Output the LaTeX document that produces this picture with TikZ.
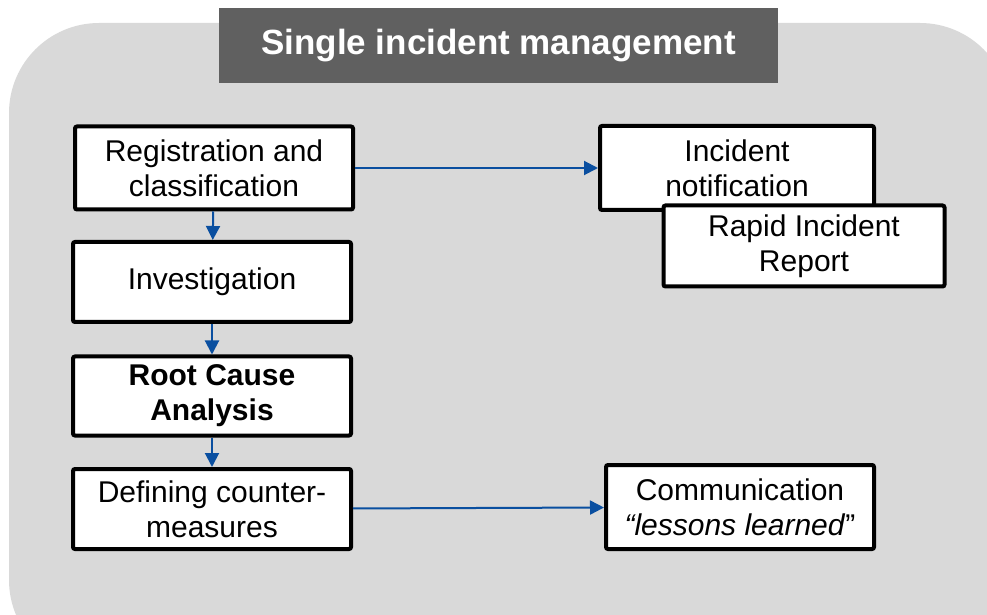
\documentclass[tikz,border=0pt]{standalone}
\usepackage{fontspec}
\setmainfont{Liberation Sans}
\usepackage{xcolor}
\definecolor{panelgray}{HTML}{D9D9D9}
\definecolor{titlegray}{HTML}{606060}
\definecolor{flowblue}{HTML}{0A4FA0}
\newcommand{\BoxFont}{\fontsize{15}{17.5}\selectfont}
\usetikzlibrary{positioning, arrows.meta}

\tikzset{
  stepbox/.style={draw, line width=2pt, fill=white, rounded corners=1pt,
    minimum width=139pt, minimum height=41.5pt, inner sep=0pt,
    align=center, font=\BoxFont},
  flow/.style={flowblue, line width=1pt, -{Triangle[length=7pt,width=7pt]}}
}

\begin{document}
\begin{tikzpicture}[x=0.5pt, y=-0.5pt]
\useasboundingbox (0,0) rectangle (987,615);

% grey panel
\fill[panelgray, rounded corners=45pt] (9,23) rectangle (1010,670);

% title bar
\node[fill=titlegray, text=white, minimum width=279.5pt, minimum height=37.5pt,
      font=\fontsize{17.5}{21}\selectfont\bfseries] (title) at (498.5,45.5)
      {Single incident management};

% left column
\node[stepbox, minimum height=41.5pt] (reg) at (214,168) {Registration and\\classification};
\node[stepbox, minimum height=40pt] (inv) at (212,282) {Investigation};
\node[stepbox, minimum height=39.5pt, font=\BoxFont\bfseries] (rca) at (212,396) {Root Cause\\Analysis};
\node[stepbox, minimum height=40pt] (def) at (212,509) {Defining counter-\\measures};

% right column
\node[stepbox, minimum width=137pt, minimum height=42pt] (inc) at (737,168) {Incident\\notification};
\node[stepbox, minimum width=140.5pt, minimum height=40.5pt] (rir) at (804,246) {Rapid Incident\\Report};
\node[stepbox, minimum width=134pt, minimum height=42pt] (com) at (740,507)
      {Communication\\\textit{“lessons learned}”};

% arrows
\draw[flow] (reg) -- (inv);
\draw[flow] (inv) -- (rca);
\draw[flow] (rca) -- (def);
\draw[flow] (reg) -- (inc);
\draw[flow] (def) -- (com);
\end{tikzpicture}
\end{document}
